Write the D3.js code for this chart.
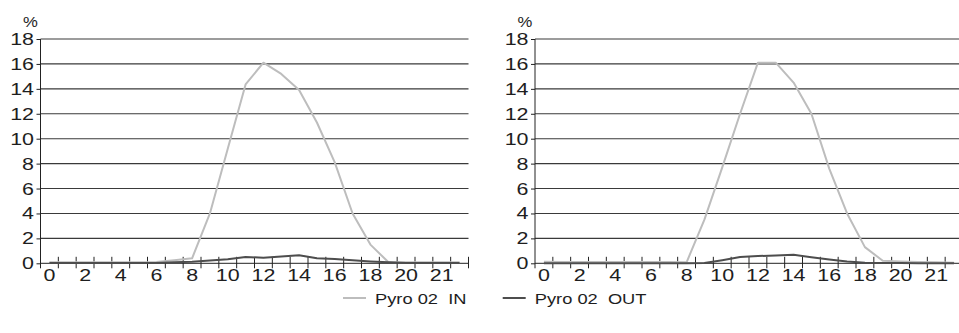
<!DOCTYPE html>
<html lang="en">
<head>
<meta charset="UTF-8">
<title>Pyro 02 IN / OUT</title>
<script src="https://d3js.org/d3.v7.min.js"></script>
<style>
    body { margin: 0; background: #fff; }
    text { font-family: "Liberation Sans", Arial, sans-serif; fill: #1e1e1e; white-space: pre; }
</style>
</head>
<body>
<svg width="959" height="333"></svg>
<script>
// categories (every other one is labelled on the axis)
const hours = ["0","1","2","3","4","5","6","7","8","9","10","11","12","13","14","15","16","17","18","19","20","20.5","21","21.5"];
const yTicks = [0, 2, 4, 6, 8, 10, 12, 14, 16, 18];

// left panel
const leftIn  = [0.08,0.08,0.08,0.08,0.08,0.08,0.1,0.25,0.4,4.0,9.2,14.35,16.1,15.2,13.9,11.3,8.1,4.0,1.5,0.1,0.08,0.08,0.08,0.08];
const leftOut = [0.02,0.02,0.02,0.02,0.02,0.02,0.03,0.08,0.13,0.22,0.33,0.5,0.45,0.55,0.65,0.4,0.35,0.25,0.15,0.08,0.03,0.03,0.03,0.03];

// right panel
const rightIn  = [0.12,0.1,0.1,0.1,0.1,0.1,0.1,0.1,0.08,3.5,7.7,12.0,16.1,16.1,14.5,12.0,7.6,4.0,1.3,0.2,0.15,0.1,0.08,0.05];
const rightOut = [0,0,0,0,0,0,0,0,0,0.02,0.25,0.5,0.58,0.63,0.68,0.48,0.3,0.15,0.05,0.03,0.02,0.01,0.01,0.01];

const seriesNames = ["Pyro 02  IN", "Pyro 02  OUT"];
const colors = ["#bdbdbd", "#4d4d4d"];

const svg = d3.select("svg");
const SX = 1.3; // text in the source is stretched horizontally

function stretchedText(parent, x, y, str, size, anchor, sx) {
    return parent.append("text")
        .attr("transform", `translate(${x},${y}) scale(${sx},1)`)
        .attr("text-anchor", anchor)
        .style("font-size", size + "px")
        .text(str);
}

function drawPanel(x0, inVals, outVals) {
    const plotW = 428;
    const top = 39, bottom = 263.3;

    const x = d3.scaleBand().domain(hours).range([x0, x0 + plotW]).paddingInner(0);
    const y = d3.scaleLinear().domain([0, 18]).range([bottom, top]);
    const g = svg.append("g");

    // horizontal grid lines
    g.selectAll("line.grid")
        .data(yTicks.filter(d => d > 0))
        .enter().append("line")
        .attr("x1", x0).attr("x2", x0 + plotW)
        .attr("y1", d => y(d)).attr("y2", d => y(d))
        .style("stroke", "#3a3a3a").style("stroke-width", 1.1);

    // y axis
    const yAxis = g.append("g")
        .attr("transform", `translate(${x0},0)`)
        .call(d3.axisLeft(y).tickValues(yTicks).tickSize(4).tickFormat(""));
    yAxis.select(".domain").remove();
    yAxis.selectAll("line").style("stroke", "#222");
    g.append("line")
        .attr("x1", x0).attr("x2", x0)
        .attr("y1", top).attr("y2", bottom + 5)
        .style("stroke", "#222");

    yTicks.forEach(t => {
        stretchedText(g, x0 - 6.5, y(t) + 6, String(t), 16.5, "end", SX);
    });
    stretchedText(g, x0 - 10, 27, "%", 14.5, "middle", 1.15);

    // x axis: ticks at category boundaries, crossing the axis line
    g.append("line")
        .attr("x1", x0).attr("x2", x0 + plotW)
        .attr("y1", bottom).attr("y2", bottom)
        .style("stroke", "#222");
    g.selectAll("line.xtick")
        .data(hours.slice(1))
        .enter().append("line")
        .attr("x1", d => x(d)).attr("x2", d => x(d))
        .attr("y1", bottom - 6.5).attr("y2", bottom + 5)
        .style("stroke", "#222");
    g.append("line")
        .attr("x1", x0 + plotW).attr("x2", x0 + plotW)
        .attr("y1", bottom - 6.5).attr("y2", bottom + 5)
        .style("stroke", "#222");

    hours.forEach((h, i) => {
        if (i % 2 === 0) {
            const label = i === 22 ? "21" : h;
            stretchedText(g, x(h) + x.bandwidth() / 2, 281, label, 16.5, "middle", SX);
        }
    });

    // series lines
    const line = d3.line()
        .x((d, i) => x(hours[i]) + x.bandwidth() / 2)
        .y(d => y(d));

    [inVals, outVals].forEach((vals, k) => {
        g.append("path")
            .datum(vals)
            .attr("d", line)
            .style("fill", "none")
            .style("stroke", colors[k])
            .style("stroke-width", 2)
            .style("stroke-linejoin", "round");
    });
}

drawPanel(40.5, leftIn, leftOut);
drawPanel(535, rightIn, rightOut);

// legend
const legend = svg.append("g");
const legendX = [343, 502.7];
seriesNames.forEach((name, k) => {
    legend.append("line")
        .attr("x1", legendX[k]).attr("x2", legendX[k] + 23)
        .attr("y1", 298).attr("y2", 298)
        .style("stroke", colors[k]).style("stroke-width", 2);
    stretchedText(legend, legendX[k] + 32, 304, name, 15, "start", 1.22);
});
</script>
</body>
</html>
